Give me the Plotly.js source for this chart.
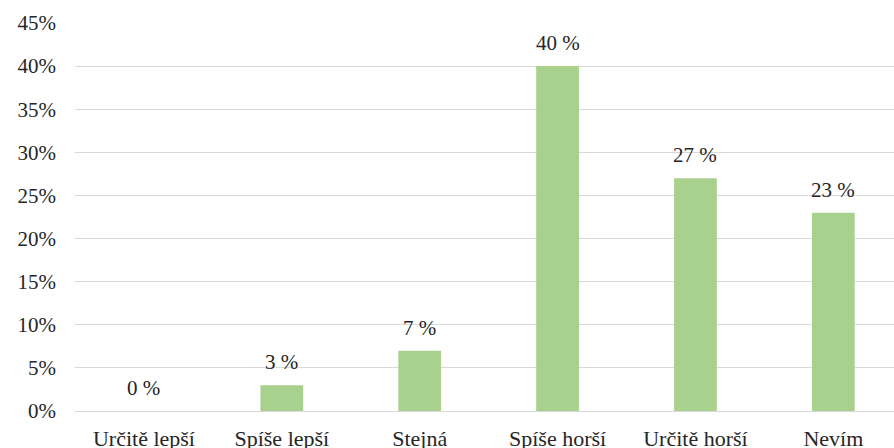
<!DOCTYPE html>
<html><head><meta charset="utf-8">
<script src="https://cdn.plot.ly/plotly-3.0.1.min.js"></script>
<style>html,body{margin:0;padding:0;background:#fff;overflow:hidden}</style>
</head><body><div id="chart" style="width:894px;height:448px"></div>
<script>
const categories = ["Určitě lepší", "Spíše lepší", "Stejná", "Spíše horší", "Určitě horší", "Nevím"];
const values = [0, 3, 7, 40, 27, 23];
const valueLabels = ["0 %", "3 %", "7 %", "40 %", "27 %", "23 %"];
const yTickVals = [0, 5, 10, 15, 20, 25, 30, 35, 40, 45];
const yTickText = ["0%", "5%", "10%", "15%", "20%", "25%", "30%", "35%", "40%", "45%"];

const font = {family: "Liberation Serif", size: 21, color: "#262626"};
const xFont = {family: "Liberation Serif", size: 22, color: "#262626"};

const positions = categories.map((c, i) => i);
const trace = {
  type: "bar", x: positions, y: values,
  marker: {color: "#a9d18e"}, hoverinfo: "none"
};
const annotations = categories.map((c, i) => ({
  x: i, y: values[i], text: valueLabels[i], showarrow: false,
  xref: "x", yref: "y", yanchor: "bottom", yshift: 9, font: font
}));
Plotly.newPlot("chart", [trace], {
  width: 894, height: 448,
  margin: {l: 75, r: 0, t: 23, b: 37},
  paper_bgcolor: "#fff", plot_bgcolor: "#fff",
  bargap: 0.69, showlegend: false, font: font,
  xaxis: {range: [-0.5, 5.44], tickvals: positions, ticktext: categories,
    showgrid: false, zeroline: false, showline: false, ticks: "", tickfont: xFont, ticklabelstandoff: 12},
  yaxis: {range: [0, 45], tickvals: yTickVals, ticktext: yTickText, showgrid: true,
    gridcolor: "#d9d9d9", gridwidth: 1, zeroline: true, zerolinecolor: "#d9d9d9", zerolinewidth: 1,
    ticks: "", tickfont: font, ticklabelstandoff: 18, showline: false},
  annotations: annotations
}, {displayModeBar: false});
</script></body></html>
